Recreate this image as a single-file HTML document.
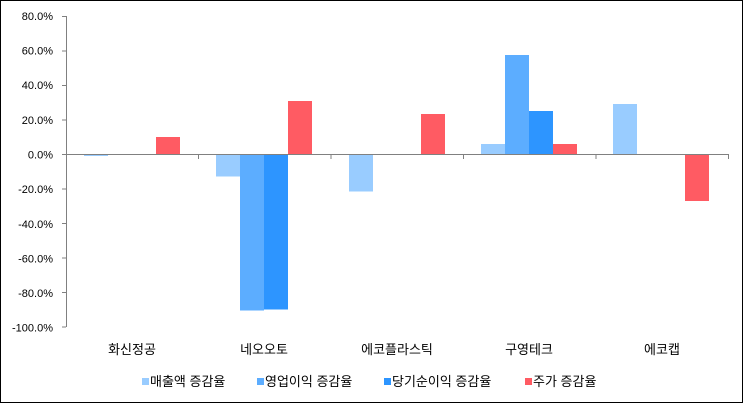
<!DOCTYPE html>
<html><head><meta charset="utf-8"><style>
body{margin:0;background:#fff}
svg{display:block;font-family:"Liberation Sans","Noto Sans CJK KR",sans-serif}
</style></head><body>
<svg width="743" height="403" viewBox="0 0 743 403" xmlns="http://www.w3.org/2000/svg">
<rect x="0.5" y="0.5" width="742" height="402" fill="#fff" stroke="#000"/>
<g font-size="11" fill="#000" text-anchor="end">
<text x="53" y="20">80.0%</text>
<text x="53" y="54.5">60.0%</text>
<text x="53" y="89">40.0%</text>
<text x="53" y="124">20.0%</text>
<text x="53" y="158.5">0.0%</text>
<text x="53" y="193">-20.0%</text>
<text x="53" y="228">-40.0%</text>
<text x="53" y="262.5">-60.0%</text>
<text x="53" y="297">-80.0%</text>
<text x="53" y="331.5">-100.0%</text>
</g>
<g stroke="#808080" stroke-width="1">
<line x1="66.5" y1="16" x2="66.5" y2="327"/>
<line x1="62" y1="16.5" x2="66" y2="16.5"/>
<line x1="62" y1="51" x2="66" y2="51"/>
<line x1="62" y1="85.5" x2="66" y2="85.5"/>
<line x1="62" y1="120" x2="66" y2="120"/>
<line x1="62" y1="154.5" x2="66" y2="154.5"/>
<line x1="62" y1="189" x2="66" y2="189"/>
<line x1="62" y1="223.5" x2="66" y2="223.5"/>
<line x1="62" y1="258" x2="66" y2="258"/>
<line x1="62" y1="292.5" x2="66" y2="292.5"/>
<line x1="62" y1="327" x2="66" y2="327"/>
</g>
<g>
<rect x="84" y="154.5" width="24" height="1.5" fill="#99ccff"/>
<rect x="156" y="137" width="24" height="17.5" fill="#ff5b63"/>

<rect x="216" y="154.5" width="24" height="22" fill="#99ccff"/>
<rect x="240" y="154.5" width="24" height="156" fill="#5cadff"/>
<rect x="264" y="154.5" width="24" height="155" fill="#2d95ff"/>
<rect x="288" y="101" width="24" height="53.5" fill="#ff5b63"/>

<rect x="349" y="154.5" width="24" height="37" fill="#99ccff"/>
<rect x="421" y="114" width="24" height="40.5" fill="#ff5b63"/>

<rect x="481" y="144" width="24" height="10.5" fill="#99ccff"/>
<rect x="505" y="55" width="24" height="99.5" fill="#5cadff"/>
<rect x="529" y="111" width="24" height="43.5" fill="#2d95ff"/>
<rect x="553" y="144" width="24" height="10.5" fill="#ff5b63"/>

<rect x="613" y="104" width="24" height="50.5" fill="#99ccff"/>
<rect x="685" y="154.5" width="24" height="46.5" fill="#ff5b63"/>
</g>
<g stroke="#808080" stroke-width="1">
<line x1="66" y1="154.5" x2="729" y2="154.5"/>
<line x1="198.5" y1="154.5" x2="198.5" y2="159"/>
<line x1="331" y1="154.5" x2="331" y2="159"/>
<line x1="463.5" y1="154.5" x2="463.5" y2="159"/>
<line x1="596" y1="154.5" x2="596" y2="159"/>
<line x1="728.5" y1="154.5" x2="728.5" y2="159"/>
</g>
<g font-size="13" fill="#000" text-anchor="middle">
<text x="132" y="354">화신정공</text>
<text x="264" y="354">네오오토</text>
<text x="397" y="354">에코플라스틱</text>
<text x="529" y="354">구영테크</text>
<text x="662" y="354">에코캡</text>
</g>
<g font-size="13" fill="#000">
<rect x="142" y="378" width="7" height="7" fill="#99ccff"/><text x="150" y="386">매출액 증감율</text>
<rect x="257" y="378" width="7" height="7" fill="#5cadff"/><text x="265" y="386">영업이익 증감율</text>
<rect x="384" y="378" width="7" height="7" fill="#2d95ff"/><text x="392" y="386">당기순이익 증감율</text>
<rect x="525" y="378" width="7" height="7" fill="#ff5b63"/><text x="533" y="386">주가 증감율</text>
</g>
</svg>
</body></html>
